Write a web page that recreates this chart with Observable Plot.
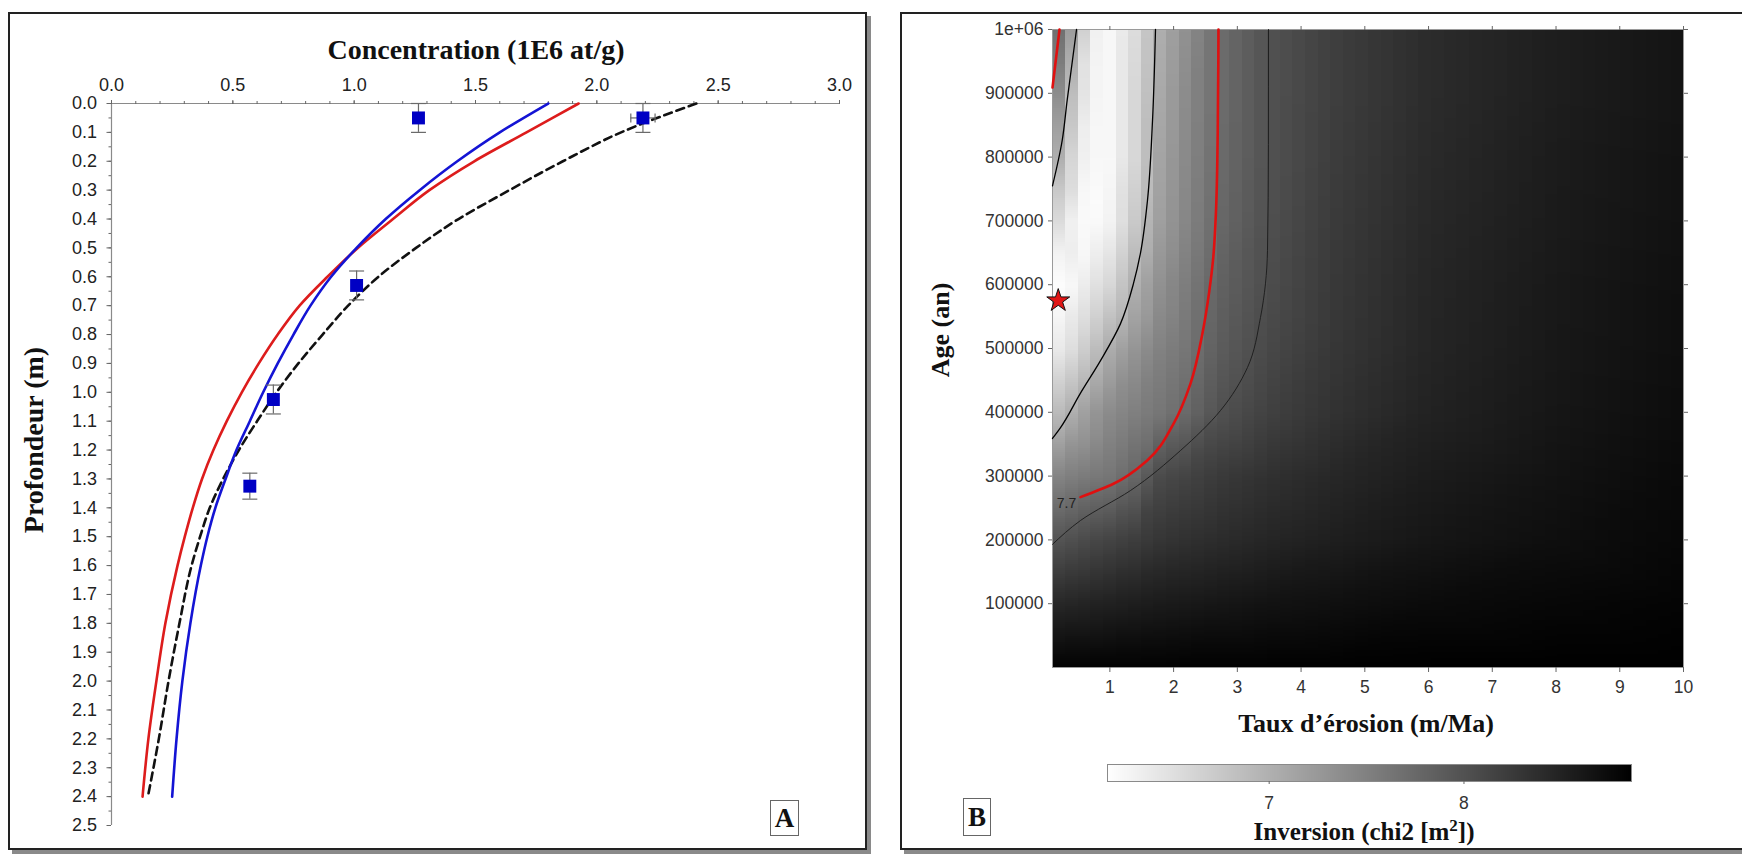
<!DOCTYPE html>
<html><head><meta charset="utf-8">
<script src="https://cdn.jsdelivr.net/npm/d3@7"></script>
<script src="https://cdn.jsdelivr.net/npm/@observablehq/plot@0.6"></script>
<style>
html,body{margin:0;padding:0;background:#fff;width:1742px;height:855px;overflow:hidden;position:relative;font-family:"Liberation Sans",Arial,sans-serif}
.frame{position:absolute;border:2px solid #222;box-shadow:4px 4px 0 #8a8a8a;background:#fff}
.abs{position:absolute}
.ttl{position:absolute;font-family:"Liberation Serif","Times New Roman",serif;font-weight:bold;color:#111;white-space:nowrap;transform:translate(-50%,-50%)}
.box{position:absolute;border:1px solid #666;font-family:"Liberation Serif",serif;font-weight:bold;font-size:27px;color:#111;display:flex;align-items:center;justify-content:center;background:#fff}
</style></head><body>
<div class="frame" style="left:8px;top:12px;width:855px;height:834px"></div>
<div class="frame" style="left:900px;top:12px;width:850px;height:834px"></div>
<div id="left" class="abs" style="left:0;top:0;width:880px;height:850px"></div>
<div id="right" class="abs" style="left:960px;top:0;width:782px;height:700px"></div>
<div id="cbar" class="abs" style="left:1104px;top:763px;width:530px;height:60px"></div>
<div class="ttl" style="left:476px;top:50px;font-size:28px">Concentration (1E6 at/g)</div>
<div class="ttl" style="left:34px;top:440px;font-size:28px;transform:translate(-50%,-50%) rotate(-90deg)">Profondeur (m)</div>
<div class="ttl" style="left:941px;top:330px;font-size:26px;transform:translate(-50%,-50%) rotate(-90deg)">Age (an)</div>
<div class="ttl" style="left:1366px;top:724px;font-size:26px">Taux d’érosion (m/Ma)</div>
<div class="ttl" style="left:1364px;top:831px;font-size:25px">Inversion (chi2 [m<sup style="font-size:17px">2</sup>])</div>
<div class="box" style="left:770px;top:800px;width:27px;height:34px">A</div>
<div class="box" style="left:963px;top:798px;width:26px;height:36px">B</div>
<script>
// ---------- Panel A data ----------
const concTickValues = [0.0, 0.5, 1.0, 1.5, 2.0, 2.5, 3.0];
const depthTickValues = [0.0,0.1,0.2,0.3,0.4,0.5,0.6,0.7,0.8,0.9,1.0,1.1,1.2,1.3,1.4,1.5,1.6,1.7,1.8,1.9,2.0,2.1,2.2,2.3,2.4,2.5];

const sampleConc  = [1.265, 2.19, 1.01, 0.667, 0.57];
const sampleDepth = [0.05, 0.05, 0.63, 1.025, 1.325];
const sampleDepthErr = [0.05, 0.05, 0.05, 0.05, 0.045];
const sampleConcErr  = [0.0, 0.05, 0.0, 0.0, 0.0];

const profileDepth = [0.0, 0.1, 0.2, 0.3, 0.4, 0.5, 0.6, 0.7, 0.8, 0.9, 1.0, 1.1, 1.2, 1.3, 1.4, 1.5, 1.6, 1.8, 2.0, 2.2, 2.4];
const blueConc = [1.80, 1.60, 1.425, 1.27, 1.13, 1.01, 0.905, 0.82, 0.75, 0.685, 0.625, 0.57, 0.515, 0.47, 0.428, 0.395, 0.368, 0.325, 0.292, 0.268, 0.25];
const redConc  = [1.925, 1.71, 1.495, 1.31, 1.16, 1.015, 0.89, 0.775, 0.685, 0.607, 0.537, 0.475, 0.42, 0.373, 0.335, 0.302, 0.272, 0.222, 0.185, 0.152, 0.128];
const dashConc = [2.41, 2.10, 1.86, 1.64, 1.43, 1.255, 1.10, 0.975, 0.87, 0.77, 0.68, 0.60, 0.525, 0.46, 0.405, 0.365, 0.33, 0.28, 0.235, 0.195, 0.15];

// ---------- Panel B data ----------
const erosionRates = [0.1, 0.3, 0.5, 0.7, 1.0, 1.4, 1.8, 2.2, 2.7, 3.5, 4.5, 6, 8, 10];
const ages = [0, 100000, 200000, 300000, 400000, 500000, 600000, 700000, 800000, 900000, 1000000];
const chi2Rows = [
  [8.84, 8.84, 8.84, 8.84, 8.84, 8.84, 8.84, 8.85, 8.85, 8.85, 8.85, 8.86, 8.86, 8.86],
  [8.45, 8.46, 8.48, 8.50, 8.52, 8.55, 8.58, 8.60, 8.63, 8.67, 8.70, 8.75, 8.79, 8.82],
  [7.97, 8.00, 8.05, 8.10, 8.15, 8.22, 8.30, 8.35, 8.40, 8.47, 8.54, 8.63, 8.71, 8.78],
  [7.45, 7.50, 7.55, 7.58, 7.62, 7.78, 8.08, 8.15, 8.25, 8.35, 8.45, 8.57, 8.67, 8.76],
  [6.85, 6.95, 7.10, 7.25, 7.40, 7.52, 7.62, 7.75, 8.00, 8.18, 8.33, 8.50, 8.63, 8.73],
  [6.35, 6.45, 6.60, 6.80, 7.05, 7.30, 7.50, 7.62, 7.88, 8.10, 8.28, 8.47, 8.61, 8.71],
  [6.20, 6.20, 6.30, 6.45, 6.60, 7.02, 7.35, 7.55, 7.82, 8.05, 8.26, 8.46, 8.60, 8.70],
  [6.70, 6.40, 6.25, 6.20, 6.30, 6.75, 7.20, 7.45, 7.75, 8.02, 8.24, 8.44, 8.58, 8.68],
  [7.25, 6.80, 6.40, 6.25, 6.25, 6.60, 7.15, 7.42, 7.72, 8.00, 8.22, 8.42, 8.57, 8.67],
  [7.65, 7.10, 6.60, 6.30, 6.25, 6.60, 7.10, 7.40, 7.70, 8.00, 8.20, 8.40, 8.55, 8.65],
  [7.90, 7.45, 6.95, 6.35, 6.25, 6.55, 7.05, 7.35, 7.70, 8.00, 8.20, 8.40, 8.55, 8.65]
];
const chi2Domain = [6.17, 8.86];
const colorbarTicks = [7, 8];
const rateTickValues = [1, 2, 3, 4, 5, 6, 7, 8, 9, 10];
const ageTickValues = [100000, 200000, 300000, 400000, 500000, 600000, 700000, 800000, 900000, 1000000];

// contour lines (rate, age)
const innerLeftRate = [0.477, 0.33, 0.252, 0.1];
const innerLeftAge  = [1000000, 889000, 826000, 755000];
const innerRightRate = [1.716, 1.669, 1.59, 1.481, 1.371, 1.167, 0.853, 0.539, 0.226, 0.1];
const innerRightAge  = [1000000, 857000, 732000, 650000, 602000, 539000, 481000, 430000, 376000, 359000];
const redLeftRate = [0.21, 0.1];
const redLeftAge  = [1000000, 909000];
const redRightRate = [2.704, 2.692, 2.665, 2.62, 2.56, 2.453, 2.265, 1.998, 1.59, 1.057, 0.539];
const redRightAge  = [1000000, 837000, 715000, 640000, 590000, 524000, 445000, 382000, 325000, 288000, 267000];
const outerRate = [3.489, 3.488, 3.473, 3.363, 3.159, 2.736, 2.108, 1.324, 0.539, 0.1];
const outerAge  = [1000000, 820000, 654000, 548600, 470200, 402800, 340100, 277400, 230400, 193000];
const contourLabel = {rate: 0.32, age: 257000, text: "7.7"};
const bestFit = {rate: 0.19, age: 575000};

// ---------- helpers ----------
const pts = (xs, ys) => xs.map((x, i) => ({x, y: ys[i]}));
const hcap = {draw(ctx, size) { const r = Math.sqrt(size / Math.PI); ctx.moveTo(-r, 0); ctx.lineTo(r, 0); }};
const vcap = {draw(ctx, size) { const r = Math.sqrt(size / Math.PI); ctx.moveTo(0, -r); ctx.lineTo(0, r); }};
const axisFont = {fontFamily: '"Liberation Sans", Arial, sans-serif', fontSize: "18px", color: "#222", background: "transparent", overflow: "visible"};

// ---------- Panel A ----------
const samples = sampleConc.map((c, i) => ({c, d: sampleDepth[i], de: sampleDepthErr[i], ce: sampleConcErr[i]}));
const samplesX = samples.filter(s => s.ce > 0);
const fmt1 = d3.format(".1f");

const left = Plot.plot({
  width: 880, height: 850,
  marginLeft: 111, marginRight: 41, marginTop: 103, marginBottom: 25,
  x: {domain: [0, 3], label: null},
  y: {domain: [0, 2.5], reverse: true, label: null},
  style: axisFont,
  marks: [
    Plot.ruleY([0], {stroke: "#8a8a8a", strokeWidth: 1.2}),
    Plot.ruleX([0], {stroke: "#8a8a8a", strokeWidth: 1.2}),
    Plot.axisX({ticks: d3.range(0, 31).map(i => i / 10), anchor: "top", tickSize: 3, tickFormat: () => "", stroke: "#666", label: null}),
    Plot.axisX({ticks: concTickValues, anchor: "top", tickSize: 4, tickPadding: 9, tickFormat: fmt1, stroke: "#666", label: null}),
    Plot.axisY({ticks: d3.range(0, 51).map(i => i / 20), anchor: "left", tickSize: 2.5, tickFormat: () => "", stroke: "#666", label: null}),
    Plot.axisY({ticks: depthTickValues, anchor: "left", tickSize: 4.5, tickPadding: 10, tickFormat: fmt1, stroke: "#666", label: null}),
    Plot.line(pts(dashConc, profileDepth), {x: "x", y: "y", stroke: "#111", strokeWidth: 2.6, strokeDasharray: "8,5", curve: "monotone-y"}),
    Plot.line(pts(redConc, profileDepth), {x: "x", y: "y", stroke: "#dd1c1c", strokeWidth: 2.6, curve: "monotone-y"}),
    Plot.line(pts(blueConc, profileDepth), {x: "x", y: "y", stroke: "#1414d4", strokeWidth: 2.6, curve: "monotone-y"}),
    Plot.ruleX(samples, {x: "c", y1: d => d.d - d.de, y2: d => d.d + d.de, stroke: "#6a6a6a", strokeWidth: 1.2}),
    Plot.dot(samples, {x: "c", y: d => d.d - d.de, symbol: hcap, r: 7.5, stroke: "#6a6a6a", strokeWidth: 1.2, fill: "none"}),
    Plot.dot(samples, {x: "c", y: d => d.d + d.de, symbol: hcap, r: 7.5, stroke: "#6a6a6a", strokeWidth: 1.2, fill: "none"}),
    Plot.ruleY(samplesX, {y: "d", x1: d => d.c - d.ce, x2: d => d.c + d.ce, stroke: "#6a6a6a", strokeWidth: 1.2}),
    Plot.dot(samplesX, {x: d => d.c - d.ce, y: "d", symbol: vcap, r: 4.5, stroke: "#6a6a6a", strokeWidth: 1.2, fill: "none"}),
    Plot.dot(samplesX, {x: d => d.c + d.ce, y: "d", symbol: vcap, r: 4.5, stroke: "#6a6a6a", strokeWidth: 1.2, fill: "none"}),
    Plot.dot(samples, {x: "c", y: "d", symbol: "square", r: 7.3, fill: "#0000c4", stroke: "none"})
  ]
});
document.getElementById("left").appendChild(left);

// ---------- Panel B ----------
const grid = [];
ages.forEach((a, i) => erosionRates.forEach((r, j) => grid.push({rate: r, age: a, chi2: chi2Rows[i][j]})));
const colorOpts = {type: "linear", domain: chi2Domain, range: ["white", "black"]};
const ageFmt = d => d === 1000000 ? "1e+06" : String(d);

const right = Plot.plot({
  width: 782, height: 700,
  marginLeft: 92, marginRight: 59, marginTop: 29, marginBottom: 33,
  x: {domain: [0.1, 10], label: null},
  y: {domain: [0, 1000000], label: null},
  color: colorOpts,
  style: {...axisFont, fontSize: "17.5px", color: "#333"},
  marks: [
    Plot.raster(grid, {x: "rate", y: "age", fill: "chi2", interpolate: "barycentric", width: 50, height: 319, imageRendering: "pixelated"}),
    Plot.frame({stroke: "#9a9a9a", strokeWidth: 1}),
    Plot.axisX({ticks: rateTickValues, anchor: "bottom", tickSize: 5, tickPadding: 8, stroke: "#666", label: null}),
    Plot.axisX({ticks: rateTickValues, anchor: "top", tickSize: 4, tickFormat: () => "", stroke: "#666", label: null}),
    Plot.axisY({ticks: ageTickValues, anchor: "left", tickSize: 4, tickPadding: 5, tickFormat: ageFmt, stroke: "#666", label: null}),
    Plot.axisY({ticks: ageTickValues, anchor: "right", tickSize: 4, tickFormat: () => "", stroke: "#666", label: null}),
    Plot.line(pts(outerRate, outerAge), {x: "x", y: "y", stroke: "#1a1a1a", strokeWidth: 0.9, curve: "monotone-y"}),
    Plot.line(pts(innerLeftRate, innerLeftAge), {x: "x", y: "y", stroke: "#000", strokeWidth: 1.3, curve: "monotone-y"}),
    Plot.line(pts(innerRightRate, innerRightAge), {x: "x", y: "y", stroke: "#000", strokeWidth: 1.3, curve: "monotone-y"}),
    Plot.line(pts(redLeftRate, redLeftAge), {x: "x", y: "y", stroke: "#e01010", strokeWidth: 2.6}),
    Plot.line(pts(redRightRate, redRightAge), {x: "x", y: "y", stroke: "#e01010", strokeWidth: 2.6, curve: "monotone-y"}),
    Plot.text([contourLabel], {x: "rate", y: "age", text: "text", fill: "#222", fontSize: 14}),
    Plot.dot([bestFit], {x: "rate", y: "age", symbol: "star", r: 7.2, fill: "#e01515", stroke: "#111", strokeWidth: 1})
  ]
});
document.getElementById("right").appendChild(right);

// ---------- Colour bar ----------
const cbar = Plot.plot({
  width: 530, height: 60,
  marginLeft: 3, marginRight: 3, marginTop: 1, marginBottom: 42,
  x: {domain: chi2Domain, label: null},
  y: {domain: [0, 1], axis: null},
  color: colorOpts,
  style: {...axisFont, fontSize: "17.5px", color: "#333"},
  marks: [
    Plot.raster({fill: (x, y) => x, x1: chi2Domain[0], x2: chi2Domain[1], y1: 0, y2: 1, width: 524, height: 1}),
    Plot.frame({stroke: "#8a8a8a"}),
    Plot.axisX({ticks: colorbarTicks, anchor: "bottom", tickSize: 3, tickPadding: 12, tickFormat: d3.format("d"), stroke: "#666", label: null})
  ]
});
document.getElementById("cbar").appendChild(cbar);
</script>
</body></html>
